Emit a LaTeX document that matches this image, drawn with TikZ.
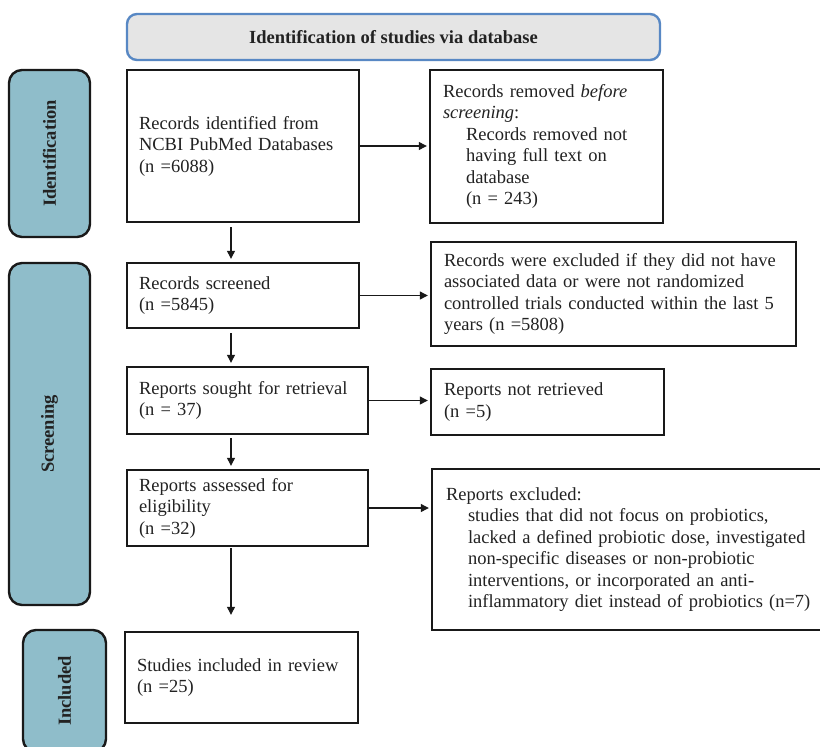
\documentclass[tikz,border=0pt]{standalone}
\usepackage{fontspec}
\setmainfont{Liberation Serif}
\usetikzlibrary{arrows.meta}
\newcommand\bodyfs{\fontsize{18.5}{21.5}\selectfont}
\definecolor{sidefill}{RGB}{143,189,202}
\definecolor{headfill}{RGB}{229,229,229}
\definecolor{headline}{RGB}{88,136,196}
\definecolor{txt}{RGB}{34,34,34}
\begin{document}
\begin{tikzpicture}[x=1pt,y=-1pt,
  box/.style={draw=black!90, line width=2.4pt, fill=white, inner xsep=12pt, inner ysep=0pt,
    align=left, font=\bodyfs, text=txt},
  side/.style={draw=black!90, line width=2.4pt, fill=sidefill, rounded corners=13pt,
    font=\bodyfs\bfseries, text=txt},
  header/.style={draw=headline, line width=2.4pt, fill=headfill, rounded corners=10pt,
    font=\bodyfs\bfseries, text=txt},
  arr/.style={line width=1.2pt, draw=black!90, -{Triangle[length=8pt,width=8pt]}}]
\useasboundingbox (0,0) rectangle (820,747);
\clip (0,0) rectangle (820,747);
\fill[white] (0,0) rectangle (820,747);

% header
\node[header, minimum width=533pt, minimum height=46pt] (hdr) at (393.5,37)
  {Identification of studies via database};

% side labels
\node[side, minimum width=81pt, minimum height=167pt] (s1) at (49.5,153.5) {};
\node[rotate=90, font=\bodyfs\bfseries, text=txt] (s1t) at (s1.center) {Identification};
\node[side, minimum width=81pt, minimum height=342pt] (s2) at (49.5,434) {};
\node[rotate=90, font=\bodyfs\bfseries, text=txt] (s2t) at (s2.center) {Screening};
\node[side, minimum width=83pt, minimum height=122pt] (s3) at (64.5,691) {};
\node[rotate=90, font=\bodyfs\bfseries, text=txt] (s3t) at (s3.center) {Included};

% main column
\node[box, text width=208pt, minimum height=152pt] (b1) at (243,146)
  {Records identified from\\NCBI PubMed Databases\\(n =6088)};
\node[box, text width=208pt, minimum height=65pt] (b2) at (243,295.5)
  {Records screened\\(n =5845)};
\node[box, text width=217pt, minimum height=67pt] (b3) at (247.5,400.5)
  {Reports sought for retrieval\\(n = 37)};
\node[box, text width=217pt, minimum height=76pt] (b4) at (247.5,508)
  {Reports assessed for\\eligibility\\(n =32)};
\node[box, text width=209pt, minimum height=91pt] (b5) at (241.5,677.5)
  {Studies included in review\\(n =25)};

% right column
\node[box, inner xsep=13pt, text width=207pt, minimum height=153pt] (r1) at (546.5,146.5)
  {Records removed \textit{before}\\\textit{screening}:\\\hspace*{23pt}Records removed not\\\hspace*{23pt}having full text on\\\hspace*{23pt}database\\\hspace*{23pt}(n = 243)};
\node[box, inner xsep=13pt, text width=339pt, minimum height=104pt] (r2) at (613.5,294)
  {Records were excluded if they did not have\\associated data or were not randomized\\controlled trials conducted within the last 5\\years (n =5808)};
\node[box, inner xsep=13pt, text width=207pt, minimum height=66pt] (r3) at (547.5,402)
  {Reports not retrieved\\(n =5)};
\node[box, inner xsep=14pt, text width=370pt, minimum height=161pt] (r4) at (631,549.5)
  {Reports excluded:\\\hspace*{22pt}studies that did not focus on probiotics,\\\hspace*{22pt}lacked a defined probiotic dose, investigated\\\hspace*{22pt}non-specific diseases or non-probiotic\\\hspace*{22pt}interventions, or incorporated an anti-\\\hspace*{22pt}inflammatory diet instead of probiotics (n=7)};

% connectors
\coordinate (ax) at (231,0);
\draw[arr, shorten <=4pt, shorten >=3pt] (b1.south -| ax) -- (b2.north -| ax);
\draw[arr, shorten <=4pt, shorten >=3pt] (b2.south -| ax) -- (b3.north -| ax);
\draw[arr, shorten <=3pt, shorten >=3pt] (b3.south -| ax) -- (b4.north -| ax);
\draw[arr, shorten <=1pt, shorten >=16pt] (b4.south -| ax) -- (b5.north -| ax);

\draw[arr, shorten >=2pt] (b1.east) -- (r1.west |- b1.east);
\draw[arr, shorten >=2pt] (b2.east) -- (r2.west |- b2.east);
\draw[arr, shorten >=2pt] (b3.east) -- (r3.west |- b3.east);
\draw[arr, shorten >=2pt] (b4.east) -- (r4.west |- b4.east);
\end{tikzpicture}
\end{document}
